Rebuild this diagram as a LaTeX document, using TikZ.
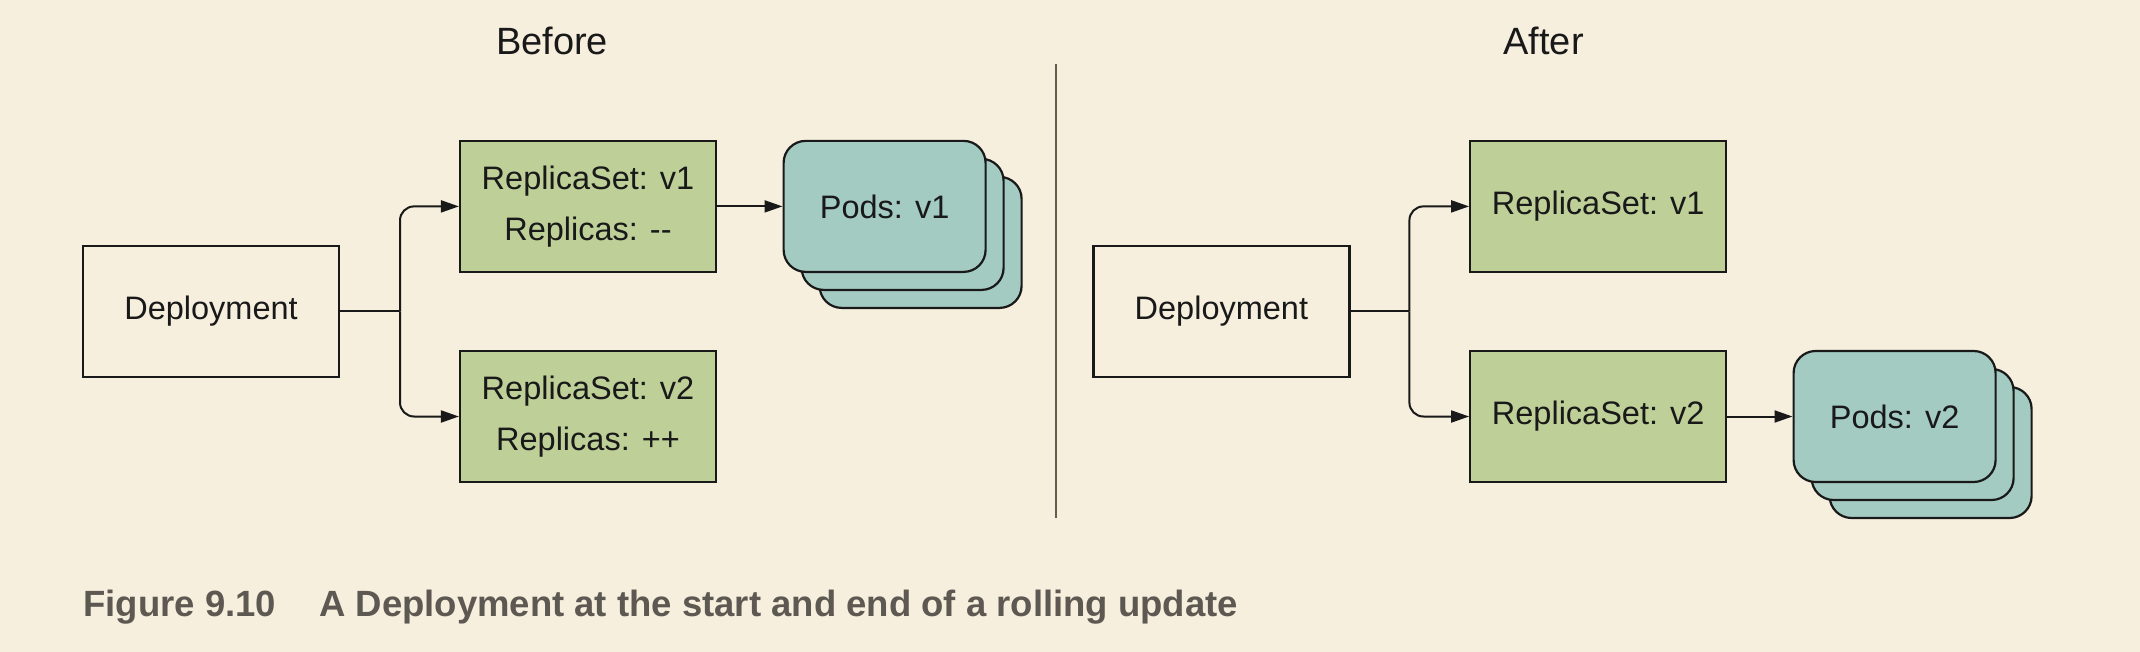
\documentclass[tikz,border=0pt]{standalone}
\usepackage{fontspec}
\setmainfont{Liberation Sans}
\usetikzlibrary{arrows.meta}
\definecolor{bg}{RGB}{246,239,222}
\definecolor{rsgreen}{RGB}{190,208,152}
\definecolor{podteal}{RGB}{163,203,194}
\definecolor{capgray}{RGB}{93,89,82}
\definecolor{divgray}{RGB}{96,90,82}
\begin{document}
\begin{tikzpicture}[x=1pt,y=-1pt,
  box/.style={draw=black!90, line width=2.2pt, inner sep=0pt, align=center,
    font=\fontsize{32.5}{51.6}\selectfont, text=black!90},
  deploybox/.style={box, fill=bg, minimum width=256pt, minimum height=131pt},
  rsbox/.style={box, fill=rsgreen, minimum width=256pt, minimum height=131pt},
  podbox/.style={box, fill=podteal, rounded corners=22pt, minimum width=202pt, minimum height=131pt},
  conn/.style={draw=black!90, line width=2pt, rounded corners=14pt},
  arr/.style={conn, -{Triangle[length=18pt,width=12pt]}},
  title/.style={font=\fontsize{38}{44}\selectfont, text=black!90, anchor=base},
  captxt/.style={font=\fontsize{36.5}{40}\selectfont\bfseries, text=capgray, anchor=base west, inner sep=0pt}
]
\fill[bg] (0,0) rectangle (2140,652);
\useasboundingbox (0,0) rectangle (2140,652);

% titles
\node[title] (tbefore) at (552,55) {Before};
\node[title] (tafter) at (1543.5,55) {After};

% divider
\coordinate (dtop) at (1055.7,64);
\coordinate (dbot) at (1055.7,518);
\draw[divgray, line width=2.2pt] (dtop) -- (dbot);

% ---------- Before ----------
\node[deploybox] (depL) at (211,311.3) {Deployment};
\node[rsbox] (rs1L) at (588,206.4) {ReplicaSet: v1\\Replicas: {-}{-}};
\node[rsbox] (rs2L) at (588,416.5) {ReplicaSet: v2\\Replicas: ++};
\node[podbox] (podLc) at (920.6,242.4) {};
\node[podbox] (podLb) at (902.6,224.4) {};
\node[podbox] (podLa) at (884.6,206.4) {Pods: v1};

\coordinate (jL) at (400,311.3);
\draw[conn] (depL.east) -- (jL);
\draw[arr] (jL) |- (rs1L.west);
\draw[arr] (jL) |- (rs2L.west);
\draw[arr] (rs1L.east) -- (podLa.west);

% ---------- After ----------
\node[deploybox] (depR) at (1221.4,311.3) {Deployment};
\node[rsbox] (rs1R) at (1598.2,206.4) {ReplicaSet: v1};
\node[rsbox] (rs2R) at (1598.2,416.5) {ReplicaSet: v2};
\node[podbox] (podRc) at (1930.6,452.5) {};
\node[podbox] (podRb) at (1912.6,434.5) {};
\node[podbox] (podRa) at (1894.6,416.5) {Pods: v2};

\coordinate (jR) at (1409.4,311.3);
\draw[conn] (depR.east) -- (jR);
\draw[arr] (jR) |- (rs1R.west);
\draw[arr] (jR) |- (rs2R.west);
\draw[arr] (rs2R.east) -- (podRa.west);

% caption
\node[captxt] (capnum) at (83.3,616.7) {Figure 9.10};
\node[captxt] (captext) at (319,616.7) {A Deployment at the start and end of a rolling update};
\end{tikzpicture}
\end{document}
